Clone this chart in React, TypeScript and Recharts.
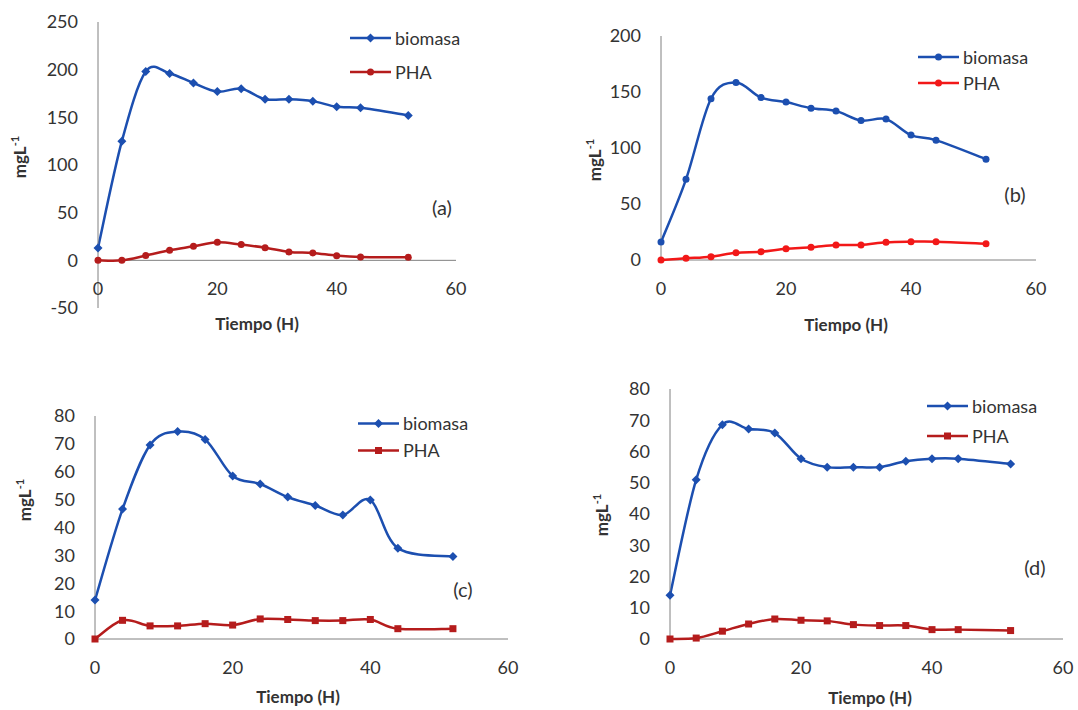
import React from "react";
import { LineChart, Line, XAxis, YAxis, Legend, ReferenceLine } from "recharts";

// muestreo cada 4 h (hasta 44) y final a 52 h
const hours = [0, 4, 8, 12, 16, 20, 24, 28, 32, 36, 40, 44, 52];

const biomasaA = [13, 125, 198, 196, 186, 177, 180, 169, 169, 167, 161, 160, 152];
const phaA = [0, 0, 5, 10.5, 14.7, 19, 16.5, 13.3, 8.8, 7.7, 4.9, 3.5, 3.2];

const biomasaB = [16, 72, 144, 158.5, 145, 141, 135.5, 133, 124.5, 125.8, 111.5, 107, 90];
const phaB = [0, 1.5, 3, 6.5, 7.4, 10, 11.3, 13.4, 13.4, 15.8, 16.4, 16.4, 14.6];

const biomasaC = [14, 46.6, 69.6, 74.4, 71.6, 58.5, 55.6, 50.9, 47.9, 44.5, 49.9, 32.6, 29.6];
const phaC = [0, 6.7, 4.7, 4.7, 5.5, 5, 7.2, 7, 6.6, 6.6, 7, 3.7, 3.7];

const biomasaD = [14, 51, 68.6, 67.2, 65.9, 57.7, 55, 55, 55, 56.9, 57.7, 57.7, 56];
const phaD = [0, 0.3, 2.5, 4.8, 6.4, 6, 5.8, 4.6, 4.3, 4.3, 3, 3, 2.7];

const xTicks = [0, 20, 40, 60];
const yTicksA = [-50, 0, 50, 100, 150, 200, 250];
const yTicksB = [0, 50, 100, 150, 200];
const yTicksCD = [0, 10, 20, 30, 40, 50, 60, 70, 80];

const FONT = "Lato, 'Open Sans', sans-serif";
const AXIS = "#808080";
const TEXT = "#333";
const BLUE = "#1c4fb0";
const DARK_RED = "#b51c1c";
const RED = "#f21818";

// Excel-style smoothed line (Catmull-Rom as cubic bezier)
const excelSmooth = (context: any) => {
  let pts: number[][] = [];
  return {
    areaStart() {},
    areaEnd() {},
    lineStart() {
      pts = [];
    },
    point(x: number, y: number) {
      pts.push([+x, +y]);
    },
    lineEnd() {
      const n = pts.length;
      if (!n) return;
      context.moveTo(pts[0][0], pts[0][1]);
      for (let i = 0; i < n - 1; i++) {
        const p0 = pts[Math.max(i - 1, 0)];
        const p1 = pts[i];
        const p2 = pts[i + 1];
        const p3 = pts[Math.min(i + 2, n - 1)];
        context.bezierCurveTo(
          p1[0] + (p2[0] - p0[0]) / 6,
          p1[1] + (p2[1] - p0[1]) / 6,
          p2[0] - (p3[0] - p1[0]) / 6,
          p2[1] - (p3[1] - p1[1]) / 6,
          p2[0],
          p2[1]
        );
      }
    },
  };
};

type Shape = "diamond" | "circle" | "square";

function Mark({ cx, cy, shape, color }: { cx: number; cy: number; shape: Shape; color: string }) {
  if (cx == null || cy == null) return null;
  if (shape === "diamond") {
    const s = 4.5;
    return <path d={`M${cx},${cy - s}L${cx + s},${cy}L${cx},${cy + s}L${cx - s},${cy}Z`} fill={color} />;
  }
  if (shape === "square") {
    return <rect x={cx - 3.5} y={cy - 3.5} width={7} height={7} fill={color} />;
  }
  return <circle cx={cx} cy={cy} r={3.5} fill={color} />;
}

interface PanelProps {
  left: number;
  top: number;
  width: number;
  height: number;
  plot: { l: number; t: number; r: number; b: number };
  yTicks: number[];
  biomasa: number[];
  pha: number[];
  phaColor: string;
  bioShape: Shape;
  phaShape: Shape;
  legend: { x: number; y: number; gap: number };
  letter: string;
  letterPos: [number, number];
  yTitle: [number, number];
  xTitle: [number, number];
}

const XW = 30;

function Panel(p: PanelProps) {
  const yMin = p.yTicks[0];
  const yMax = p.yTicks[p.yTicks.length - 1];
  const plotH = p.plot.b - p.plot.t;
  // x tick labels sit under the y=0 line, not at the plot bottom
  const shift = (plotH * (0 - yMin)) / (yMax - yMin);
  const data = hours.map((h, i) => ({ hora: h, biomasa: p.biomasa[i], PHA: p.pha[i] }));
  const yW = p.plot.l - 4;

  const rows = [
    { name: "biomasa", color: BLUE, shape: p.bioShape },
    { name: "PHA", color: p.phaColor, shape: p.phaShape },
  ];

  return (
    <div style={{ position: "absolute", left: p.left, top: p.top, width: p.width, height: p.height }}>
      <LineChart
        width={p.width}
        height={p.height}
        data={data}
        margin={{ top: p.plot.t, left: 4, right: p.width - p.plot.r, bottom: p.height - p.plot.b - XW }}
      >
        <XAxis
          dataKey="hora"
          type="number"
          domain={[0, 60]}
          ticks={xTicks}
          interval={0}
          height={XW}
          axisLine={false}
          tickLine={false}
          tickSize={0}
          tickMargin={0}
          tick={(t: any) => (
            <text
              key={t.index}
              x={t.x}
              y={t.y - shift + 35}
              textAnchor="middle"
              fontFamily={FONT}
              fontSize={18}
              fill={TEXT}
            >
              {t.payload.value}
            </text>
          )}
          label={{
            content: () => (
              <text
                x={p.xTitle[0]}
                y={p.xTitle[1]}
                dy="0.36em"
                textAnchor="middle"
                fontFamily={FONT}
                fontSize={17}
                fontWeight="bold"
                fill={TEXT}
              >
                Tiempo (H)
              </text>
            ),
          }}
        />
        <YAxis
          type="number"
          domain={[yMin, yMax]}
          ticks={p.yTicks}
          interval={0}
          width={yW}
          axisLine={{ stroke: AXIS, strokeWidth: 1 }}
          tickLine={false}
          tickSize={0}
          tickMargin={20}
          tick={(t: any) => (
            <text
              key={t.index}
              x={t.x}
              y={t.y}
              dy="0.36em"
              textAnchor="end"
              fontFamily={FONT}
              fontSize={18}
              fill={TEXT}
            >
              {t.payload.value}
            </text>
          )}
          label={{
            content: () => (
              <text
                x={p.yTitle[0]}
                y={p.yTitle[1]}
                transform={`rotate(-90 ${p.yTitle[0]} ${p.yTitle[1]})`}
                dy="0.36em"
                textAnchor="middle"
                fontFamily={FONT}
                fontSize={17}
                fontWeight="bold"
                fill={TEXT}
              >
                mgL
                <tspan dy={-7} fontSize={11}>
                  -1
                </tspan>
              </text>
            ),
          }}
        />
        <ReferenceLine y={0} stroke={AXIS} strokeWidth={1} />
        <Legend
          layout="vertical"
          align="center"
          verticalAlign="middle"
          wrapperStyle={{ left: p.legend.x, top: p.legend.y - p.legend.gap / 2, width: 160 }}
          content={() => (
            <div style={{ fontFamily: FONT, fontSize: 18, color: TEXT }}>
              {rows.map((r) => (
                <div key={r.name} style={{ display: "flex", alignItems: "center", height: p.legend.gap }}>
                  <svg width={41} height={p.legend.gap} style={{ display: "block" }}>
                    <line x1={0} x2={41} y1={p.legend.gap / 2} y2={p.legend.gap / 2} stroke={r.color} strokeWidth={2.5} />
                    <Mark cx={20.5} cy={p.legend.gap / 2} shape={r.shape} color={r.color} />
                  </svg>
                  <span style={{ marginLeft: 4, lineHeight: 1 }}>{r.name}</span>
                </div>
              ))}
            </div>
          )}
        />
        <Line
          dataKey="PHA"
          type={excelSmooth as any}
          stroke={p.phaColor}
          strokeWidth={2.5}
          isAnimationActive={false}
          dot={(d: any) => <Mark key={d.index} cx={d.cx} cy={d.cy} shape={p.phaShape} color={p.phaColor} />}
          activeDot={false}
        />
        <Line
          dataKey="biomasa"
          type={excelSmooth as any}
          stroke={BLUE}
          strokeWidth={2.5}
          isAnimationActive={false}
          dot={(d: any) => <Mark key={d.index} cx={d.cx} cy={d.cy} shape={p.bioShape} color={BLUE} />}
          activeDot={false}
        />
      </LineChart>
      <div
        style={{
          position: "absolute",
          left: p.letterPos[0],
          top: p.letterPos[1],
          transform: "translate(-50%, -50%)",
          fontFamily: FONT,
          fontSize: 20,
          color: TEXT,
          lineHeight: 1,
          whiteSpace: "nowrap",
        }}
      >
        {p.letter}
      </div>
    </div>
  );
}

export default function App() {
  return (
    <div style={{ position: "absolute", left: 0, top: 0, width: 1078, height: 710, background: "#fff", overflow: "hidden" }}>
      <Panel
        left={0}
        top={0}
        width={540}
        height={340}
        plot={{ l: 98, t: 22, r: 456, b: 308 }}
        yTicks={yTicksA}
        biomasa={biomasaA}
        pha={phaA}
        phaColor={DARK_RED}
        bioShape="diamond"
        phaShape="circle"
        legend={{ x: 350, y: 38, gap: 34 }}
        letter="(a)"
        letterPos={[442, 207]}
        yTitle={[20, 157]}
        xTitle={[257, 324]}
      />
      <Panel
        left={540}
        top={0}
        width={538}
        height={340}
        plot={{ l: 121, t: 36, r: 496, b: 260 }}
        yTicks={yTicksB}
        biomasa={biomasaB}
        pha={phaB}
        phaColor={RED}
        bioShape="circle"
        phaShape="circle"
        legend={{ x: 378, y: 57, gap: 26 }}
        letter="(b)"
        letterPos={[475, 194]}
        yTitle={[55, 160]}
        xTitle={[306, 325]}
      />
      <Panel
        left={0}
        top={370}
        width={560}
        height={340}
        plot={{ l: 95, t: 46, r: 508, b: 269 }}
        yTicks={yTicksCD}
        biomasa={biomasaC}
        pha={phaC}
        phaColor={DARK_RED}
        bioShape="diamond"
        phaShape="square"
        legend={{ x: 358, y: 53, gap: 27 }}
        letter="(c)"
        letterPos={[463, 219]}
        yTitle={[25, 130]}
        xTitle={[298, 327]}
      />
      <Panel
        left={560}
        top={360}
        width={518}
        height={350}
        plot={{ l: 110, t: 29, r: 503, b: 279 }}
        yTicks={yTicksCD}
        biomasa={biomasaD}
        pha={phaD}
        phaColor={DARK_RED}
        bioShape="diamond"
        phaShape="square"
        legend={{ x: 367, y: 46, gap: 30 }}
        letter="(d)"
        letterPos={[475, 207]}
        yTitle={[42, 155]}
        xTitle={[310, 338]}
      />
    </div>
  );
}
